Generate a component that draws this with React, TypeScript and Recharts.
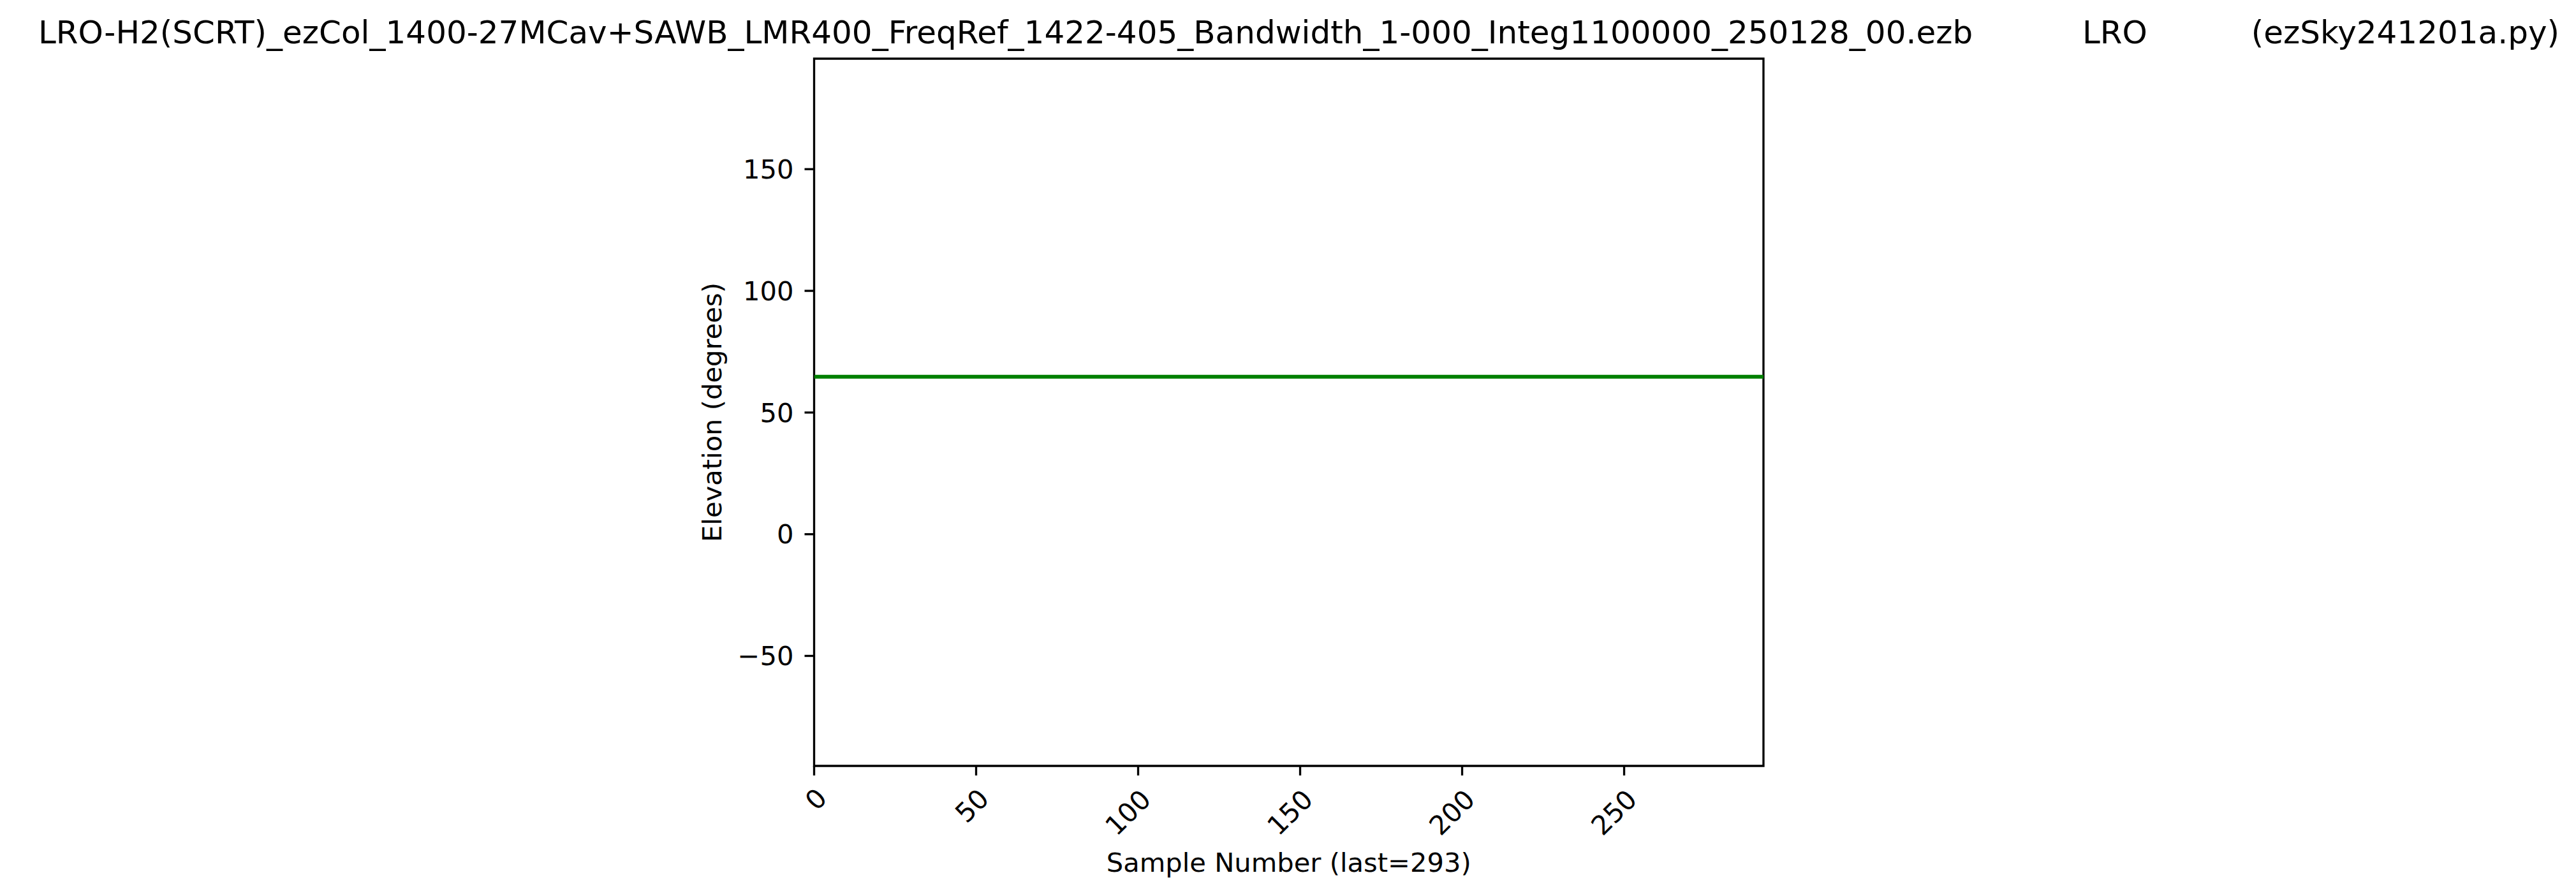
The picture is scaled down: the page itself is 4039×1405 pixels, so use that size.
import React from "react";
import { LineChart, Line, XAxis, YAxis, ReferenceArea } from "recharts";

const sampleNumbers = [0, 50, 100, 150, 200, 250, 293];
const elevations = [64.7, 64.7, 64.7, 64.7, 64.7, 64.7, 64.7];
const xTicks = [0, 50, 100, 150, 200, 250];
const yTicks = [-50, 0, 50, 100, 150];
const xDomain = [0, 293];
const yDomain = [-95.2, 195.4];

const titleMain =
  "LRO-H2(SCRT)_ezCol_1400-27MCav+SAWB_LMR400_FreqRef_1422-405_Bandwidth_1-000_Integ1100000_250128_00.ezb";
const titleSite = "LRO";
const titleProgram = "(ezSky241201a.py)";
const xLabel = "Sample Number (last=293)";
const yLabel = "Elevation (degrees)";

const data = sampleNumbers.map((s, i) => ({ sample: s, elevation: elevations[i] }));

const FONT = "DejaVu Sans";
const W = 4039;
const H = 1405;
const PLOT_LEFT = 1276.5;
const PLOT_RIGHT = 2765;
const PLOT_TOP = 92;
const PLOT_BOTTOM = 1201;
const Y_AXIS_W = 100;
const X_AXIS_H = 100;
const TICK_FS = 41.67;
const STROKE = 3.33;

const fmtY = (v: number) => (v < 0 ? "\u2212" + Math.abs(v) : String(v));

const XTick = (props: any) => {
  const { x, y, payload } = props;
  const label = String(payload.value);
  const n = label.length;
  const cx = x + 3 - 9.5 * (n - 1);
  const cy = y + 37 + 10.5 * (n - 1);
  return (
    <text
      x={cx}
      y={cy}
      textAnchor="middle"
      dominantBaseline="central"
      transform={`rotate(-45, ${cx}, ${cy})`}
      fontFamily={FONT}
      fontSize={TICK_FS}
      fill="#000"
    >
      {label}
    </text>
  );
};

export default function App() {
  return (
    <div style={{ position: "absolute", left: 0, top: 0, width: W, height: H, background: "#fff" }}>
      <LineChart
        width={W}
        height={H}
        data={data}
        margin={{
          top: PLOT_TOP,
          left: PLOT_LEFT - Y_AXIS_W,
          right: W - PLOT_RIGHT,
          bottom: H - PLOT_BOTTOM - X_AXIS_H,
        }}
      >
        <XAxis
          dataKey="sample"
          type="number"
          domain={xDomain}
          ticks={xTicks}
          allowDataOverflow
          height={X_AXIS_H}
          axisLine={false}
          tickLine={{ stroke: "#000", strokeWidth: STROKE }}
          tickSize={15}
          tickMargin={0}
          interval={0}
          tick={<XTick />}
        />
        <YAxis
          type="number"
          domain={yDomain}
          ticks={yTicks}
          allowDataOverflow
          width={Y_AXIS_W}
          axisLine={false}
          tickLine={{ stroke: "#000", strokeWidth: STROKE }}
          tickSize={15}
          tickMargin={17}
          interval={0}
          tickFormatter={fmtY}
          tick={{ fontFamily: FONT, fontSize: TICK_FS, fill: "#000" }}
        />
        <Line
          type="linear"
          dataKey="elevation"
          stroke="#008000"
          strokeWidth={6}
          dot={false}
          isAnimationActive={false}
        />
        <ReferenceArea
          x1={xDomain[0]}
          x2={xDomain[1]}
          y1={yDomain[0]}
          y2={yDomain[1]}
          fill="none"
          fillOpacity={0}
          stroke="#000"
          strokeWidth={STROKE}
          ifOverflow="visible"
        />
      </LineChart>
      <svg
        width={W}
        height={H}
        style={{ position: "absolute", left: 0, top: 0, pointerEvents: "none" }}
      >
        <text x={60} y={68} fontFamily={FONT} fontSize={50} fill="#000">
          {titleMain}
        </text>
        <text x={3265} y={68} fontFamily={FONT} fontSize={50} fill="#000">
          {titleSite}
        </text>
        <text x={4013} y={68} textAnchor="end" fontFamily={FONT} fontSize={50} fill="#000">
          {titleProgram}
        </text>
        <text
          x={(PLOT_LEFT + PLOT_RIGHT) / 2}
          y={1367}
          textAnchor="middle"
          fontFamily={FONT}
          fontSize={TICK_FS}
          fill="#000"
        >
          {xLabel}
        </text>
        <text
          x={1131}
          y={(PLOT_TOP + PLOT_BOTTOM) / 2}
          textAnchor="middle"
          transform={`rotate(-90, 1131, ${(PLOT_TOP + PLOT_BOTTOM) / 2})`}
          fontFamily={FONT}
          fontSize={TICK_FS}
          fill="#000"
        >
          {yLabel}
        </text>
      </svg>
    </div>
  );
}
